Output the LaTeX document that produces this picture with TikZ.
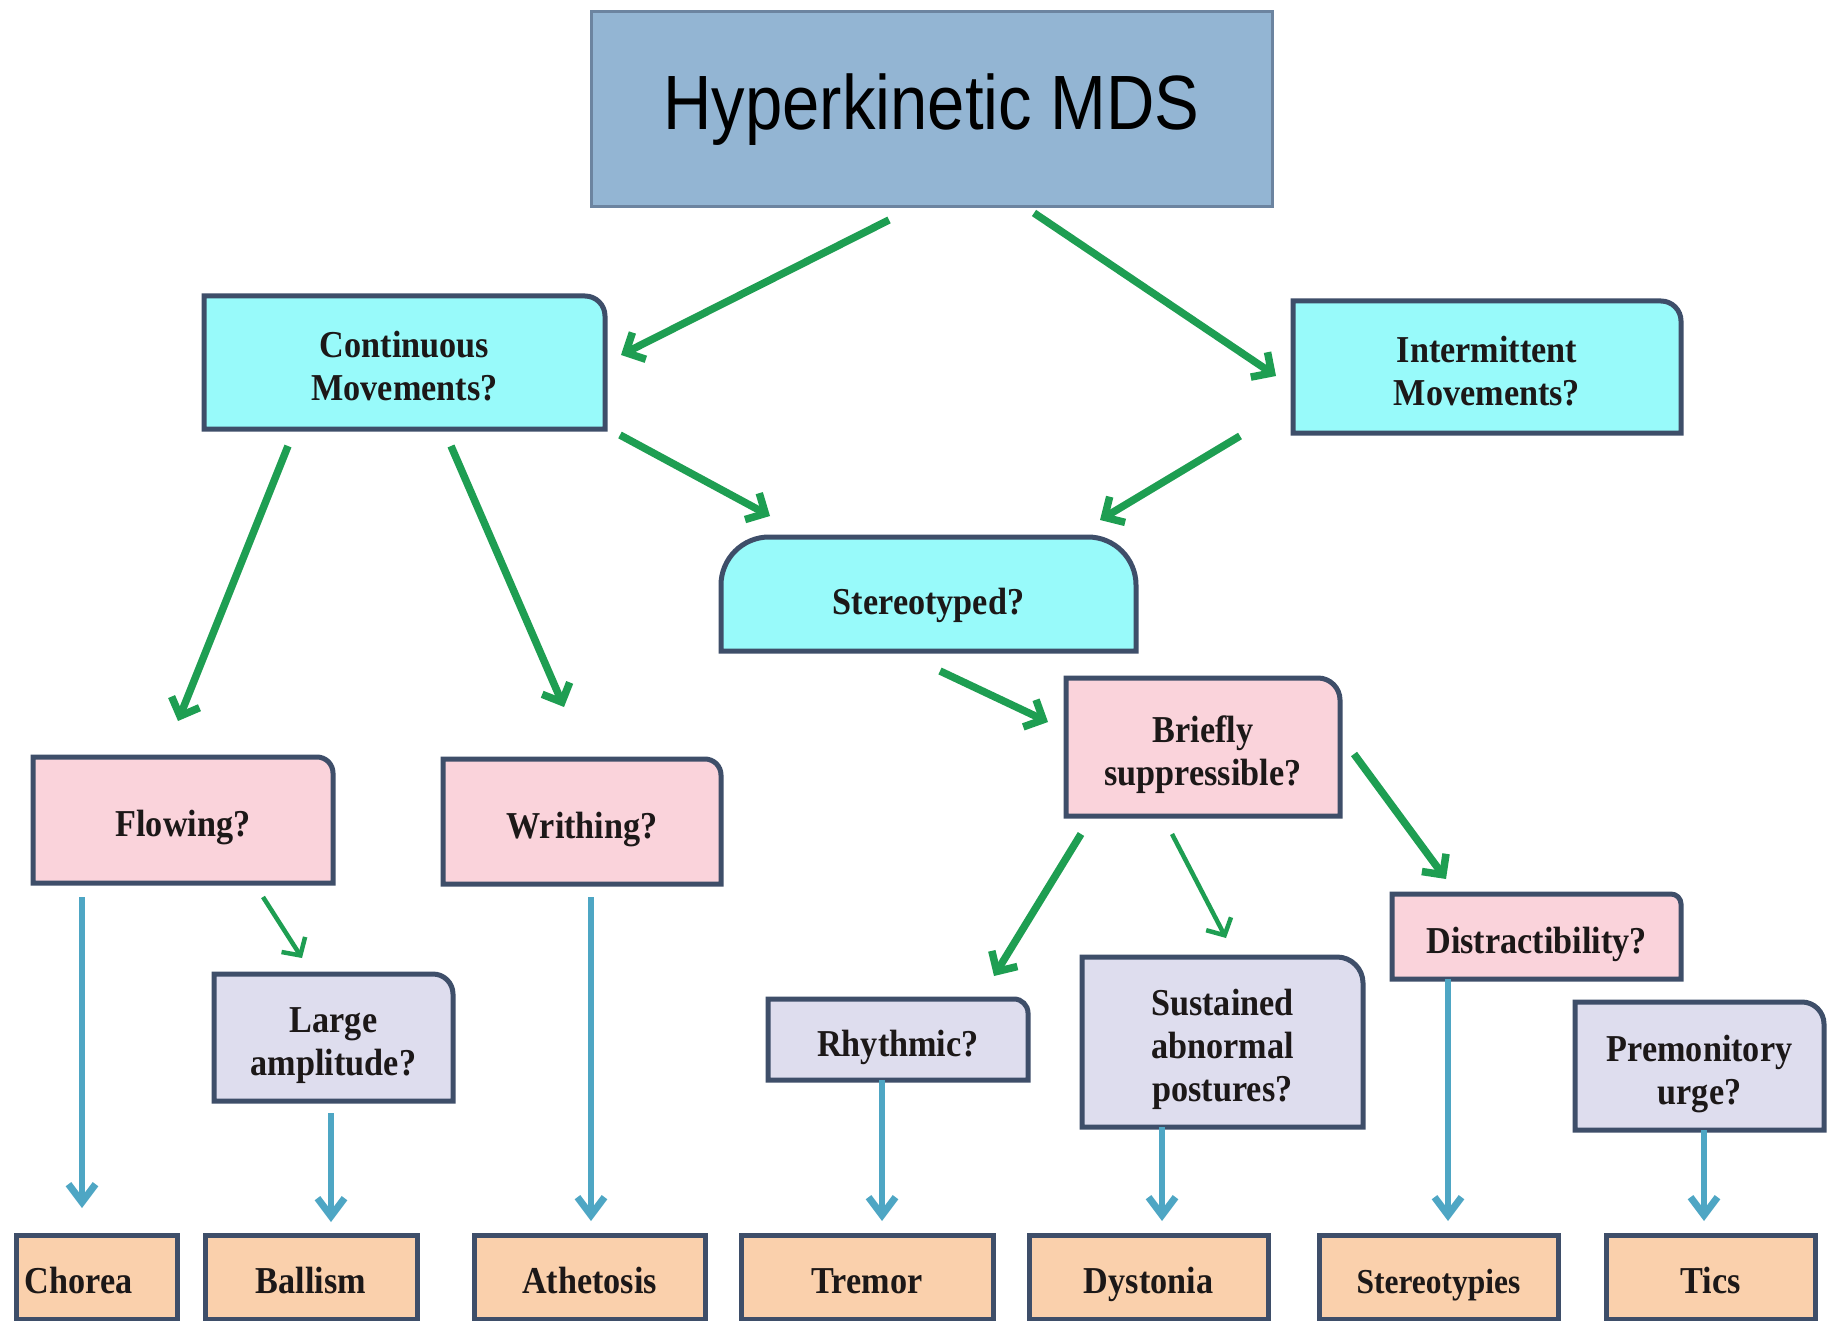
\documentclass[tikz,border=0pt]{standalone}
\usepackage{fontspec}
\setmainfont{Liberation Serif}[FakeStretch=0.9]
\newfontfamily\titlefont{Liberation Sans}[FakeStretch=0.87]
\usetikzlibrary{arrows.meta,calc}
\definecolor{bordc}{RGB}{62,78,105}
\definecolor{titlefill}{RGB}{147,181,211}
\definecolor{titlebord}{RGB}{108,132,160}
\definecolor{cyanfill}{RGB}{152,250,250}
\definecolor{pinkfill}{RGB}{250,211,219}
\definecolor{lavfill}{RGB}{222,221,238}
\definecolor{peachfill}{RGB}{250,208,172}
\definecolor{greenarr}{RGB}{30,158,82}
\definecolor{bluearr}{RGB}{78,166,196}
\definecolor{txtc}{RGB}{28,24,24}
% top strut (height 45pt) and bottom strut (depth 12pt) so the text sits a little below centre
\newcommand\topstrut{\rule[-12pt]{0pt}{57pt}}
\newcommand\botstrut{\rule[-12pt]{0pt}{12pt}}
\newcommand\qbox[8]{%
  \filldraw[boxline, fill=#7] (#2,#5) -- (#2,#3) -- ({#4-#6},#3)
    .. controls ({#4-0.45*#6},#3) and (#4,{#3+0.45*#6}) .. (#4,{#3+#6}) -- (#4,#5) -- cycle;
  \node[boxtext, minimum width={(#4-#2)*1pt}, minimum height={(#5-#3)*1pt}] (#1)
    at ({(#2+#4)/2},{(#3+#5)/2}) {\topstrut#8\botstrut};
}
\begin{document}
\begin{tikzpicture}[x=1pt,y=-1pt,
  boxline/.style={draw=bordc, line width=5pt, line join=miter},
  boxtext/.style={inner sep=0pt, outer sep=0pt, align=center, text=txtc,
    font=\bfseries\fontsize{38}{43}\selectfont},
  garr/.style={draw=greenarr, line width=7.5pt, -{Straight Barb[length=15pt,width=30pt]}},
  garrthin/.style={draw=greenarr, line width=4.5pt, -{Straight Barb[length=13pt,width=28pt]}},
  barr/.style={draw=bluearr, line width=5.5pt, -{Straight Barb[length=18pt,width=27pt,line width=7pt]}}
]
\useasboundingbox (0,0) rectangle (1827,1321);
\clip (0,0) rectangle (1827,1321);
\fill[white] (0,0) rectangle (1827,1321);

% title
\filldraw[draw=titlebord, line width=3pt, fill=titlefill] (591,12) rectangle (1272,207);
\node[inner sep=0pt, outer sep=0pt, minimum width=681pt, minimum height=195pt,
  font=\titlefont\fontsize{77}{80}\selectfont, text=black] (title) at (931.5,109.5)
  {Hyperkinetic MDS};

% question boxes
\qbox{cont}{204}{296}{605}{429}{20}{cyanfill}{Continuous\\Movements?}
\qbox{inter}{1293}{301}{1681}{433}{20}{cyanfill}{Intermittent\\Movements?}
\filldraw[boxline, fill=cyanfill] (721,651) -- (721,585)
  .. controls (721,{537+0.45*48}) and ({721+0.45*48},537) .. (769,537) -- (1088,537)
  .. controls ({1136-0.45*48},537) and (1136,{537+0.45*48}) .. (1136,585) -- (1136,651) -- cycle;
\node[boxtext, minimum width=415pt, minimum height=114pt] (stereo) at (928.5,594)
  {\rule[-12pt]{0pt}{65pt}Stereotyped?\botstrut};
\qbox{brief}{1066}{678}{1340}{816}{22}{pinkfill}{Briefly\\suppressible?}
\qbox{flow}{33}{757}{333}{883}{16}{pinkfill}{Flowing?}
\qbox{wri}{443}{759}{721}{884}{16}{pinkfill}{Writhing?}
\qbox{large}{214}{974}{453}{1101}{20}{lavfill}{Large\\amplitude?}
\qbox{rhy}{768}{999}{1028}{1080}{14}{lavfill}{Rhythmic?}
\qbox{sus}{1082}{957}{1363}{1127}{26}{lavfill}{Sustained\\abnormal\\postures?}
\qbox{dis}{1392}{894}{1681}{979}{10}{pinkfill}{Distractibility?}
\qbox{prem}{1575}{1002}{1824}{1130}{22}{lavfill}{Premonitory\\urge?}

% outcome boxes
\qbox{chorea}{16}{1235}{177}{1319}{0}{peachfill}{Chorea\rule{36pt}{0pt}}
\qbox{ballism}{205}{1235}{417}{1319}{0}{peachfill}{Ballism}
\qbox{athetosis}{474}{1235}{705}{1319}{0}{peachfill}{Athetosis}
\qbox{tremor}{741}{1235}{993}{1319}{0}{peachfill}{Tremor}
\qbox{dystonia}{1029}{1235}{1268}{1319}{0}{peachfill}{Dystonia}
\qbox{stereotypies}{1319}{1235}{1558}{1319}{0}{peachfill}{\fontsize{35}{40}\selectfont Stereotypies}
\qbox{tics}{1606}{1235}{1815}{1319}{0}{peachfill}{Tics}

% green connectors
\draw[garr] ($(title.south west)+(298,13)$) -- ($(cont.north west)+(417,59)$);
\draw[garr] ($(title.south west)+(443,6)$) -- ($(inter.north west)+(-17,75)$);
\draw[garr] ($(cont.north west)+(416,139)$) -- ($(stereo.north west)+(49,-21)$);
\draw[garr] ($(inter.north west)+(-53,135)$) -- ($(stereo.north west)+(379,-17)$);
\draw[garr] ($(cont.north west)+(84,150)$) -- ($(flow.north west)+(145,-36)$);
\draw[garr] ($(cont.north west)+(247,150)$) -- ($(wri.north west)+(121,-52)$);
\draw[garr] ($(stereo.north west)+(219,134)$) -- ($(brief.north west)+(-18,44)$);
\draw[garr] ($(brief.north west)+(15,156)$) -- ($(rhy.north west)+(226,-23)$);
\draw[garrthin] ($(brief.north west)+(106,156)$) -- ($(sus.north west)+(144,-19)$);
\draw[garr] ($(brief.north west)+(288,76)$) -- ($(dis.north west)+(54,-15)$);
\draw[garrthin] ($(flow.north west)+(230,140)$) -- ($(large.north west)+(88,-16)$);

% blue connectors
\draw[barr] ($(flow.north west)+(49,140)$) -- ($(chorea.north west)+(66,-27)$);
\draw[barr] ($(large.north west)+(117,139)$) -- ($(ballism.north west)+(126,-13)$);
\draw[barr] ($(wri.north west)+(148,138)$) -- ($(athetosis.north west)+(117,-14)$);
\draw[barr] ($(rhy.north west)+(114,81)$) -- ($(tremor.north west)+(141,-14)$);
\draw[barr] ($(sus.north west)+(80,170)$) -- ($(dystonia.north west)+(133,-14)$);
\draw[barr] ($(dis.north west)+(56,85)$) -- ($(stereotypies.north west)+(129,-14)$);
\draw[barr] ($(prem.north west)+(129,128)$) -- ($(tics.north west)+(98,-14)$);
\end{tikzpicture}
\end{document}
